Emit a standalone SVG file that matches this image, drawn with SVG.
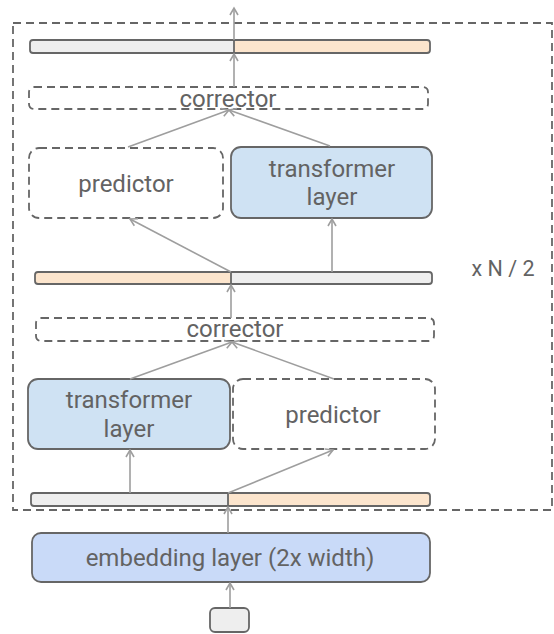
<svg xmlns="http://www.w3.org/2000/svg" width="554" height="634" viewBox="0 0 554 634">
<defs>
<marker id="arr" markerUnits="userSpaceOnUse" markerWidth="12" markerHeight="12" viewBox="-10 -6 12 12" refX="0" refY="0" orient="auto">
<path d="M -7 -4 L 0 0 L -7 4" fill="none" stroke="#9e9e9e" stroke-width="1.6"/>
</marker>
</defs>
<style>
.txt{font-family:Roboto,"Liberation Sans",sans-serif;font-weight:400;font-size:24px;fill:#636363;text-anchor:middle}
.dash{fill:none;stroke:#666;stroke-width:1.8;stroke-dasharray:8 5}
.solid{stroke:#666;stroke-width:1.8}
.gray{fill:#eeeeee}
.peach{fill:#fce5cd}
.outline{fill:none;stroke:#666;stroke-width:1.8}
.con line{stroke:#9e9e9e;stroke-width:1.6;marker-end:url(#arr)}
</style>
<rect id="repeat-block" x="13" y="23" width="539" height="487" class="dash"/>
<g id="bar-top">
<rect x="30" y="40" width="204" height="13" class="gray"/>
<rect x="234" y="40" width="196" height="13" class="peach"/>
<rect x="30" y="40" width="400" height="13" rx="3" class="outline"/>
<line x1="234" y1="40" x2="234" y2="53" class="solid"/>
</g>
<g id="corrector-top">
<rect x="29" y="87" width="399" height="22" rx="5" class="dash"/>
<text x="228" y="107" class="txt">corrector</text>
</g>
<g id="predictor-top">
<rect x="29" y="148" width="194" height="70" rx="10" class="dash"/>
<text x="126" y="192" class="txt">predictor</text>
</g>
<g id="transformer-top">
<rect x="231" y="147" width="201" height="71" rx="10" class="solid" fill="#cfe2f3"/>
<text x="332" y="177" class="txt">transformer</text>
<text x="332" y="205" class="txt">layer</text>
</g>
<g id="bar-mid">
<rect x="35" y="272" width="196" height="12" class="peach"/>
<rect x="231" y="272" width="201" height="12" class="gray"/>
<rect x="35" y="272" width="397" height="12" rx="3" class="outline"/>
<line x1="231" y1="272" x2="231" y2="284" class="solid"/>
</g>
<g id="repeat-label">
<text x="503" y="276" class="txt" style="font-size:21.5px">x N / 2</text>
</g>
<g id="corrector-bottom">
<rect x="36" y="318" width="398" height="23" rx="5" class="dash"/>
<text x="235" y="337" class="txt">corrector</text>
</g>
<g id="transformer-bottom">
<rect x="28" y="379" width="202" height="70" rx="10" class="solid" fill="#cfe2f3"/>
<text x="129" y="408" class="txt">transformer</text>
<text x="129" y="437" class="txt">layer</text>
</g>
<g id="predictor-bottom">
<rect x="233" y="379" width="202" height="70" rx="10" class="dash"/>
<text x="333" y="423" class="txt">predictor</text>
</g>
<g id="bar-bottom">
<rect x="31" y="493" width="197" height="13" class="gray"/>
<rect x="228" y="493" width="202" height="13" class="peach"/>
<rect x="31" y="493" width="399" height="13" rx="3" class="outline"/>
<line x1="228" y1="493" x2="228" y2="506" class="solid"/>
</g>
<g id="embedding">
<rect x="32" y="533" width="398" height="49" rx="9" class="solid" fill="#c9daf8"/>
<text x="230" y="566" class="txt">embedding layer (2x width)</text>
</g>
<g id="input">
<rect x="210" y="608" width="39" height="24" rx="5" class="solid" fill="#eeeeee"/>
</g>
<g id="connectors" class="con">
<line x1="234" y1="40" x2="234" y2="8"/>
<line x1="234" y1="87" x2="234" y2="54"/>
<line x1="128" y1="147" x2="229" y2="110"/>
<line x1="330" y1="146" x2="229" y2="110"/>
<line x1="231" y1="272" x2="130" y2="219"/>
<line x1="332" y1="272" x2="332" y2="219"/>
<line x1="231" y1="318" x2="231" y2="285"/>
<line x1="130" y1="379" x2="232" y2="342"/>
<line x1="334" y1="379" x2="232" y2="342"/>
<line x1="130" y1="493" x2="130" y2="450"/>
<line x1="228" y1="493" x2="333" y2="450"/>
<line x1="228" y1="533" x2="228" y2="507"/>
<line x1="230" y1="608" x2="230" y2="583"/>
</g>
</svg>
